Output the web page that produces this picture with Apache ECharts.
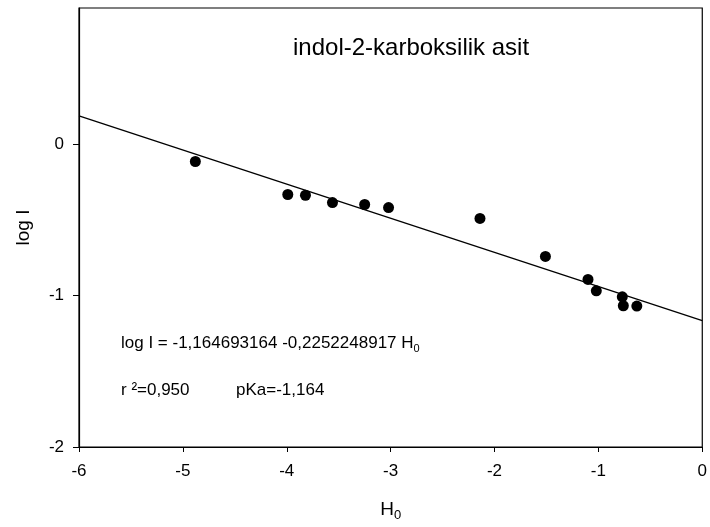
<!DOCTYPE html>
<html><head><meta charset="utf-8">
<script src="https://cdn.jsdelivr.net/npm/echarts@6/dist/echarts.min.js"></script>
<style>html,body{margin:0;padding:0;background:#fff}#c{width:710px;height:527px}</style>
</head><body><div id="c"></div>
<script>
var h0 = [-4.88, -3.99, -3.82, -3.56, -3.25, -3.02, -2.14, -1.51, -1.10, -1.02, -0.77, -0.76, -0.63];
var logI = [-0.114, -0.332, -0.337, -0.385, -0.398, -0.418, -0.490, -0.741, -0.893, -0.968, -1.008, -1.067, -1.069];
var intercept = -1.164693164;
var slope = -0.2252248917;
var xTicks = [-6, -5, -4, -3, -2, -1, 0];
var yTicks = [-2, -1, 0];
var xRange = [-6, 0];

var pts = h0.map(function(x, i){ return [x, logI[i]]; });
var fit = xRange.map(function(x){ return [x, intercept + slope * x]; });
var font = 'Liberation Sans, Arial, sans-serif';

var chart = echarts.init(document.getElementById('c'));
chart.setOption({
  animation: false,
  backgroundColor: '#fff',
  grid: {left: 79, right: 2, top: 8, bottom: 78, show: true, borderColor: '#000', borderWidth: 1.2},
  title: {text: 'indol-2-karboksilik asit', left: 288, top: 31,
    textStyle: {fontFamily: font, fontSize: 24, fontWeight: 'normal', color: '#000'}},
  xAxis: {type: 'value', min: -6, max: 0, interval: 1,
    name: '{a|H}{s|0}', nameLocation: 'middle', nameGap: 50,
    nameTextStyle: {rich: {a: {fontFamily: font, fontSize: 19, color: '#000'}, s: {fontFamily: font, fontSize: 13, color: '#000', padding: [12,0,0,0]}}},
    axisLine: {onZero: false, lineStyle: {color: '#000', width: 1.2}},
    axisTick: {show: true, inside: false, length: 5, lineStyle: {color: '#000'}, customValues: xTicks},
    axisLabel: {customValues: xTicks, color: '#000', fontFamily: font, fontSize: 17, margin: 16},
    splitLine: {show: false}},
  yAxis: {type: 'value', min: -2, max: 0.9, interval: 1,
    name: 'log I', nameLocation: 'middle', nameGap: 46, nameRotate: 90,
    nameTextStyle: {fontFamily: font, fontSize: 19, color: '#000'},
    axisLine: {onZero: false, lineStyle: {color: '#000', width: 1.2}},
    axisTick: {show: true, inside: false, length: 6, lineStyle: {color: '#000'}, customValues: yTicks},
    axisLabel: {customValues: yTicks, color: '#000', fontFamily: font, fontSize: 17, margin: 15},
    splitLine: {show: false}},
  graphic: [
    {type: 'text', left: 121, top: 335, style: {
      text: '{a|log I = -1,164693164 -0,2252248917 H}{s|0}',
      rich: {a: {fontFamily: font, fontSize: 17, fill: '#000'}, s: {fontFamily: font, fontSize: 11, fill: '#000', padding: [10,0,0,0]}}}},
    {type: 'text', left: 121, top: 382, style: {text: 'r ²=0,950', fontFamily: font, fontSize: 17, fill: '#000'}},
    {type: 'text', left: 236, top: 382, style: {text: 'pKa=-1,164', fontFamily: font, fontSize: 17, fill: '#000'}}
  ],
  series: [
    {type: 'line', data: fit, symbol: 'none', lineStyle: {color: '#000', width: 1.3}, z: 2},
    {type: 'scatter', data: pts, symbol: 'circle', symbolSize: 11, itemStyle: {color: '#000', opacity: 1}, z: 3}
  ]
});
</script></body></html>
